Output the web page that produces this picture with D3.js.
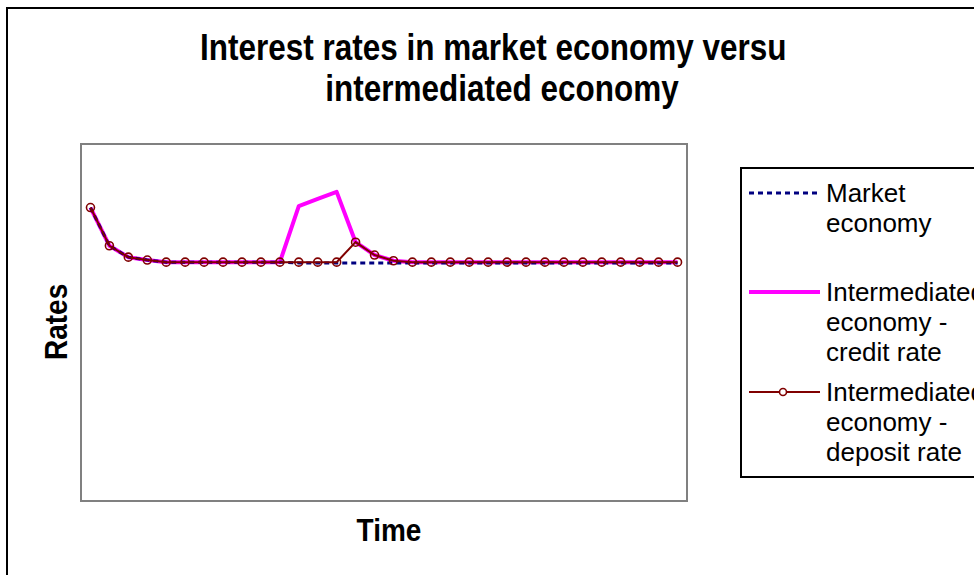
<!DOCTYPE html>
<html lang="en">
<head>
<meta charset="utf-8">
<title>interest rates</title>
<script type="text/javascript" src="https://d3js.org/d3.v7.min.js"></script>
<style type="text/css">
    body{
        margin:0;
        background:#fff;
    }
    text{
        font-family: Arial, "Liberation Sans", sans-serif;
        fill:#000;
    }
</style>
</head>
<body>
<div id="chart"></div>
<script type="text/javascript">
    // periods 0..31, no tick labels on the chart
    var periods = d3.range(32)
    var marketRate = [8.22,7.15,6.83,6.75,6.69,6.69,6.69,6.69,6.69,6.69,6.69,6.67,6.67,6.67,6.67,6.67,
                      6.67,6.67,6.67,6.67,6.67,6.67,6.67,6.67,6.67,6.67,6.67,6.67,6.67,6.67,6.67,6.67]
    var creditRate = [8.22,7.15,6.83,6.75,6.69,6.69,6.69,6.69,6.69,6.69,6.69,8.26,8.46,8.66,7.25,6.89,
                      6.73,6.69,6.69,6.69,6.69,6.69,6.69,6.69,6.69,6.69,6.69,6.69,6.69,6.69,6.69,6.69]
    var depositRate = [8.22,7.15,6.83,6.75,6.69,6.69,6.69,6.69,6.69,6.69,6.69,6.69,6.69,6.69,7.25,6.89,
                       6.73,6.69,6.69,6.69,6.69,6.69,6.69,6.69,6.69,6.69,6.69,6.69,6.69,6.69,6.69,6.69]
    var titleLines = ["Interest rates in market economy versus","intermediated economy"]
    var legendLabels = [["Market","economy"],
                        ["Intermediated","economy -","credit rate"],
                        ["Intermediated","economy -","deposit rate"]]

    var W = 974, H = 575
    var plot = {left:81, top:144, right:687, bottom:501}
    var stretch = 1.15   // the bold labels are drawn a bit taller than wide

    var svg = d3.select("#chart").append("svg")
        .attr("width",W).attr("height",H)

    var defs = svg.append("defs")
    defs.append("clipPath").attr("id","titleClip")
        .append("rect").attr("x",0).attr("y",0).attr("width",785).attr("height",140)
    defs.append("clipPath").attr("id","ratesClip")
        .append("rect").attr("x",0).attr("y",280).attr("width",80).attr("height",120)

    // outer chart frame (runs off the right and bottom edges)
    svg.append("rect")
        .attr("x",7).attr("y",8).attr("width",1100).attr("height",1100)
        .attr("fill","#fff").attr("stroke","#000").attr("stroke-width",2)

    // title
    svg.append("g").attr("clip-path","url(#titleClip)")
        .selectAll("text").data(titleLines).enter().append("text")
        .attr("transform",function(d,i){ return "translate(502,"+(60+i*41)+") scale(1,"+stretch+")" })
        .attr("text-anchor","middle")
        .style("font-size","31.5px").style("font-weight","bold")
        .text(function(d){ return d })

    // plot area
    svg.append("rect")
        .attr("x",plot.left).attr("y",plot.top)
        .attr("width",plot.right-plot.left).attr("height",plot.bottom-plot.top)
        .attr("fill","#fff").attr("stroke","#808080").attr("stroke-width",2)

    var x = d3.scalePoint().domain(periods).range([plot.left,plot.right]).padding(0.5)
    var y = d3.scaleLinear().domain([0,10]).range([plot.bottom,plot.top])

    var line = d3.line()
        .x(function(d,i){ return x(periods[i]) })
        .y(function(d){ return y(d) })

    svg.append("path").datum(creditRate)
        .attr("d",line).attr("fill","none")
        .attr("stroke","#ff00ff").attr("stroke-width",4).attr("stroke-linejoin","round")

    svg.append("path").datum(marketRate)
        .attr("d",line).attr("fill","none")
        .attr("stroke","#000080").attr("stroke-width",3).attr("stroke-dasharray","5,4")

    svg.append("path").datum(depositRate)
        .attr("d",line).attr("fill","none")
        .attr("stroke","#800000").attr("stroke-width",2)

    svg.append("g").selectAll("circle").data(depositRate).enter().append("circle")
        .attr("cx",function(d,i){ return x(periods[i]) })
        .attr("cy",function(d){ return y(d) })
        .attr("r",4)
        .attr("fill","none").attr("stroke","#800000").attr("stroke-width",1.6)

    // axis titles
    svg.append("text")
        .attr("transform","translate(389,541) scale(1,"+stretch+")")
        .attr("text-anchor","middle")
        .style("font-size","28px").style("font-weight","bold")
        .text("Time")

    svg.append("g").attr("clip-path","url(#ratesClip)")
        .append("text")
        .attr("transform","translate(67,360) rotate(-90) scale(1,"+stretch+")")
        .attr("text-anchor","start")
        .style("font-size","28px").style("font-weight","bold")
        .text("Rates")

    // legend
    var legend = svg.append("g")
    legend.append("rect")
        .attr("x",741).attr("y",168).attr("width",300).attr("height",309)
        .attr("fill","#fff").attr("stroke","#000").attr("stroke-width",2)

    var legendY = [193,292,392]
    var styles = [
        {stroke:"#000080", width:3, dash:"5,4"},
        {stroke:"#ff00ff", width:4, dash:null},
        {stroke:"#800000", width:2, dash:null}
    ]
    legendLabels.forEach(function(lines,k){
        var yy = legendY[k]
        legend.append("line")
            .attr("x1",749).attr("x2",820).attr("y1",yy).attr("y2",yy)
            .attr("stroke",styles[k].stroke).attr("stroke-width",styles[k].width)
            .attr("stroke-dasharray",styles[k].dash)
        if(k==2){
            legend.append("circle").attr("cx",783).attr("cy",yy).attr("r",3.5)
                .attr("fill","#fff").attr("stroke","#800000").attr("stroke-width",1.6)
        }
        legend.selectAll(null).data(lines).enter().append("text")
            .attr("x",826)
            .attr("y",function(d,i){ return yy + 9 + i*30 })
            .style("font-size","26px")
            .text(function(d){ return d })
    })
</script>
</body>
</html>
